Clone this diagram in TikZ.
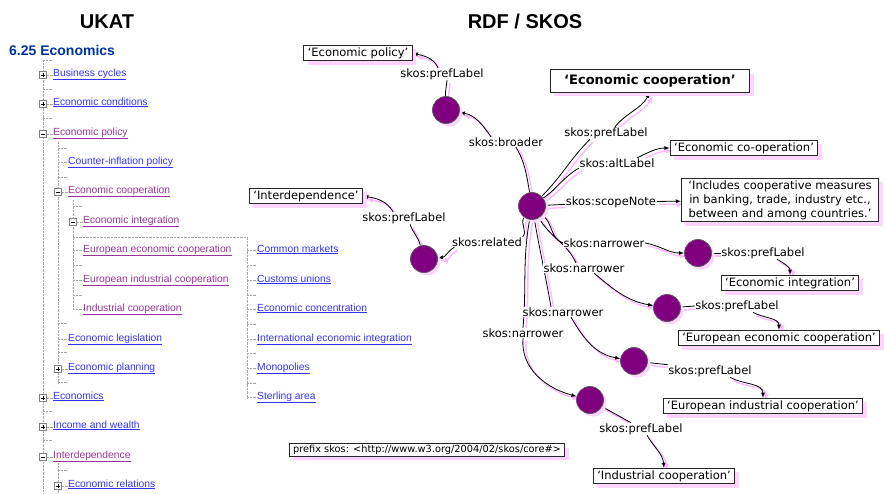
\documentclass[tikz,border=0pt]{standalone}
\usepackage{fontspec}
\setmainfont{DejaVu Sans}
\newfontfamily\treefont{Liberation Sans}
\usetikzlibrary{positioning}
\usetikzlibrary{arrows}
\usetikzlibrary{shadows}
\usetikzlibrary{backgrounds}
\definecolor{linkblue}{RGB}{51,51,255}
\definecolor{visited}{RGB}{153,51,153}
\definecolor{headblue}{RGB}{0,51,153}
\definecolor{respurple}{RGB}{128,0,128}
\definecolor{shadowpink}{RGB}{255,212,255}
\definecolor{arcpink}{RGB}{255,185,255}

% all SKOS arcs, #1 = plain style, #2 = arrow style
\newcommand\skosarcs[2]{%
	\draw[#1] (r0) to[out=100,in=-60] ([xshift=10pt]p2.south);
	\draw[#2] ([xshift=-15pt]p2.north) to[out=125,in=-10] (r1);
	\draw[#1] (r1) to[out=92,in=-95] ([xshift=5pt]p1.south);
	\draw[#2] ([xshift=-4pt]p1.north) to[out=115,in=-15] (l1.east);
	\draw[#1] (r0) to[out=-125,in=45] (p4.north east);
	\draw[#2] ([xshift=3pt]p4.south west) to[out=-150,in=5] (r2);
	\draw[#1] (r2) to[out=105,in=-70] ([xshift=6pt]p3.south);
	\draw[#2] ([xshift=-11pt]p3.north) to[out=120,in=-10] (l5.east);
	\draw[#1] (r0) to[out=45,in=-135] ([xshift=-16pt]p5.south);
	\draw[#2] ([xshift=9pt]p5.north) to[out=50,in=-120] (l2.south);
	\draw[#1] (r0) to[out=35,in=-150] (p6.south west);
	\draw[#2] ([xshift=20pt]p6.north) to[out=25,in=180] (l3.west);
	\draw[#1] (r0) -- (p7);
	\draw[#2] (p7) -- (l4);
	\draw[#1] (r0) to[out=-40,in=160] (p8.west);
	\draw[#2] (p8.east) to[out=-10,in=180] (r3);
	\draw[#1] (r0) to[out=-60,in=115] ([xshift=-8pt]p9.north);
	\draw[#2] ([xshift=10pt]p9.south) to[out=-40,in=170] (r4);
	\draw[#1] (r0) to[out=-80,in=100] ([xshift=-12pt]p10.north);
	\draw[#2] ([xshift=8pt]p10.south) to[out=-60,in=170] (r5);
	\draw[#1] (r0) to[out=-100,in=85] (p11.north);
	\draw[#2] (p11.south) to[out=-95,in=165] (r6);
	\draw[#1] (r3) -- (p12.west);
	\draw[#2] ([xshift=14pt]p12.south) to[out=-30,in=90] (l6.north);
	\draw[#1] (r4) -- (p13.west);
	\draw[#2] ([xshift=16pt]p13.south) to[out=-30,in=90] (l7.north);
	\draw[#1] (r5) -- (p14.north west);
	\draw[#2] ([xshift=20pt]p14.south) to[out=-30,in=90] (l8.north);
	\draw[#1] (r6) -- ([xshift=-10pt]p15.north);
	\draw[#2] ([xshift=6pt]p15.south) to[out=-60,in=95] (l9.north);
}

\begin{document}
\begin{tikzpicture}[x=1pt,y=1pt,>=latex,
	res/.style={circle, draw=gray!70!black, fill=respurple, minimum size=27pt, inner sep=0pt, line width=0.8pt,
		drop shadow={shadow xshift=3pt, shadow yshift=-3pt, fill=shadowpink, opacity=1}},
	lit/.style={draw=black!85, fill=white, line width=1pt, inner xsep=4pt, inner ysep=2pt,
		font=\fontsize{11.5}{14}\selectfont,
		drop shadow={shadow xshift=4pt, shadow yshift=-4pt, fill=shadowpink, opacity=1}},
	prop/.style={fill=white, inner sep=0.5pt, font=\fontsize{11.5}{14}\selectfont},
	arc/.style={line width=0.8pt},
	shade/.style={line width=1.4pt, draw=arcpink},
	tree/.style={gray!70, densely dotted},
	lnk/.style={anchor=base west, inner sep=0pt, text=linkblue, font=\treefont\fontsize{10.3}{12}\selectfont},
	vis/.style={lnk, text=visited},
	plusbox/.style={draw=gray, fill=white, minimum size=7pt, inner sep=0pt,
		path picture={\draw[black, line width=0.5pt]
			([xshift=1.5pt]path picture bounding box.west) -- ([xshift=-1.5pt]path picture bounding box.east)
			([yshift=-1.5pt]path picture bounding box.north) -- ([yshift=1.5pt]path picture bounding box.south);}},
	minusbox/.style={draw=gray, fill=white, minimum size=7pt, inner sep=0pt,
		path picture={\draw[black, line width=0.5pt]
			([xshift=1.5pt]path picture bounding box.west) -- ([xshift=-1.5pt]path picture bounding box.east);}}
	]
	\useasboundingbox (0,0) rectangle (884,-493);

	% headings
	\node (h1) at (107,-28) [anchor=base, font=\treefont\bfseries\fontsize{20}{24}\selectfont] {UKAT};
	\node (h2) at (525,-28) [anchor=base, font=\treefont\bfseries\fontsize{20}{24}\selectfont] {RDF / SKOS};

	% UKAT tree
	\node (t0) at (9,-55) [anchor=base west, inner sep=0pt, text=headblue, font=\treefont\bfseries\fontsize{14}{16}\selectfont] {6.25 Economics};
	\draw[tree] (43,-60) -- (43,-493);
	\draw[tree] (58,-142) -- (58,-383);
	\draw[tree] (58,-463) -- (58,-493);
	\draw[tree] (73,-200) -- (73,-310);
	\draw[tree] (73,-237) -- (247,-237) -- (247,-398);
	\foreach \y in {60,89,118,411,440} \draw[tree] (43,-\y) -- +(9,0);
	\foreach \y in {148,177,323,352,382,470} \draw[tree] (58,-\y) -- +(9,0);
	\foreach \y in {206,265,295} \draw[tree] (73,-\y) -- +(9,0);
	\foreach \y in {265,295,324,353,383} \draw[tree] (247,-\y) -- +(9,0);

	\node (t1) at (53,-76) [lnk] {\underline{Business cycles}};
	\node (t2) at (53,-105) [lnk] {\underline{Economic conditions}};
	\node (t3) at (53,-135) [vis] {\underline{Economic policy}};
	\node (t4) at (68,-164) [lnk] {\underline{Counter-inflation policy}};
	\node (t5) at (68,-193) [vis] {\underline{Economic cooperation}};
	\node (t6) at (83,-223) [vis] {\underline{Economic integration}};
	\node (t7) at (83,-252) [vis] {\underline{European economic cooperation}};
	\node (t8) at (83,-282) [vis] {\underline{European industrial cooperation}};
	\node (t9) at (83,-311) [vis] {\underline{Industrial cooperation}};
	\node (t10) at (68,-341) [lnk] {\underline{Economic legislation}};
	\node (t11) at (68,-370) [lnk] {\underline{Economic planning}};
	\node (t12) at (53,-399) [lnk] {\underline{Economics}};
	\node (t13) at (53,-428) [lnk] {\underline{Income and wealth}};
	\node (t14) at (53,-458) [vis] {\underline{Interdependence}};
	\node (t15) at (68,-487) [lnk] {\underline{Economic relations}};
	\node (u1) at (257,-252) [lnk] {\underline{Common markets}};
	\node (u2) at (257,-282) [lnk] {\underline{Customs unions}};
	\node (u3) at (257,-311) [lnk] {\underline{Economic concentration}};
	\node (u4) at (257,-341) [lnk] {\underline{International economic integration}};
	\node (u5) at (257,-370) [lnk] {\underline{Monopolies}};
	\node (u6) at (257,-399) [lnk] {\underline{Sterling area}};

	\foreach \n in {t4,t10} \draw[tree] (\n.base west) ++(-10,2) -- ++(10,0);
	\foreach \n in {t7,t8,t9} \draw[tree] (\n.base west) ++(-10,2) -- ++(10,0);
	\foreach \n in {u1,u2,u3,u4,u5,u6} \draw[tree] (\n.base west) ++(-10,2) -- ++(10,0);

	\node (b1) at (43,-75) [plusbox] {};
	\node (b2) at (43,-104) [plusbox] {};
	\node (b3) at (43,-134) [minusbox] {};
	\node (b4) at (58,-192) [minusbox] {};
	\node (b5) at (73,-222) [minusbox] {};
	\node (b6) at (58,-369) [plusbox] {};
	\node (b7) at (43,-398) [plusbox] {};
	\node (b8) at (43,-427) [plusbox] {};
	\node (b9) at (43,-457) [minusbox] {};
	\node (b10) at (58,-486) [plusbox] {};
	\draw[tree] (b1) -- (b1 -| t1.west);
	\draw[tree] (b2) -- (b2 -| t2.west);
	\draw[tree] (b3) -- (b3 -| t3.west);
	\draw[tree] (b4) -- (b4 -| t5.west);
	\draw[tree] (b5) -- (b5 -| t6.west);
	\draw[tree] (b6) -- (b6 -| t11.west);
	\draw[tree] (b7) -- (b7 -| t12.west);
	\draw[tree] (b8) -- (b8 -| t13.west);
	\draw[tree] (b9) -- (b9 -| t14.west);
	\draw[tree] (b10) -- (b10 -| t15.west);

	% SKOS graph: resources
	\node (r0) at (532,-206) [res] {};
	\node (r1) at (446,-110) [res] {};
	\node (r2) at (424,-259) [res] {};
	\node (r3) at (698,-253) [res] {};
	\node (r4) at (667,-308) [res] {};
	\node (r5) at (634,-361) [res] {};
	\node (r6) at (590,-400) [res] {};

	% literals
	\node (l1) at (358,-53) [lit] {`Economic policy'};
	\node (l2) at (650,-81) [lit, inner xsep=14pt, inner ysep=5pt, font=\bfseries\fontsize{13}{15}\selectfont] {`Economic cooperation'};
	\node (l3) at (744,-148) [lit] {`Economic co-operation'};
	\node (l4) at (780,-200) [lit, inner xsep=7pt, align=center] {`Includes cooperative measures\\in banking, trade, industry etc.,\\between and among countries.'};
	\node (l5) at (306,-196) [lit] {`Interdependence'};
	\node (l6) at (790,-283) [lit] {`Economic integration'};
	\node (l7) at (779,-338) [lit] {`European economic cooperation'};
	\node (l8) at (763,-406) [lit] {`European industrial cooperation'};
	\node (l9) at (664,-476) [lit] {`Industrial cooperation'};
	\node (px) at (427,-450) [lit, inner ysep=1.5pt, font=\fontsize{9.8}{11}\selectfont] {prefix skos: <http://www.w3.org/2004/02/skos/core\#>};

	% properties
	\node (p1) at (442,-74) [prop] {skos:prefLabel};
	\node (p2) at (506,-142) [prop] {skos:broader};
	\node (p3) at (404,-218) [prop] {skos:prefLabel};
	\node (p4) at (487,-242) [prop] {skos:related};
	\node (p5) at (606,-133) [prop] {skos:prefLabel};
	\node (p6) at (617,-163) [prop] {skos:altLabel};
	\node (p7) at (611,-202) [prop] {skos:scopeNote};
	\node (p8) at (604,-243) [prop] {skos:narrower};
	\node (p9) at (584,-268) [prop] {skos:narrower};
	\node (p10) at (563,-312) [prop] {skos:narrower};
	\node (p11) at (523,-333) [prop] {skos:narrower};
	\node (p12) at (763,-253) [prop] {skos:prefLabel};
	\node (p13) at (737,-306) [prop] {skos:prefLabel};
	\node (p14) at (710,-371) [prop] {skos:prefLabel};
	\node (p15) at (641,-429) [prop] {skos:prefLabel};

	\begin{scope}[on background layer]
		\begin{scope}[transform canvas={shift={(3pt,-3pt)}}]
			\skosarcs{shade}{shade,->}
		\end{scope}
		\skosarcs{arc}{arc,->}
	\end{scope}
\end{tikzpicture}
\end{document}
